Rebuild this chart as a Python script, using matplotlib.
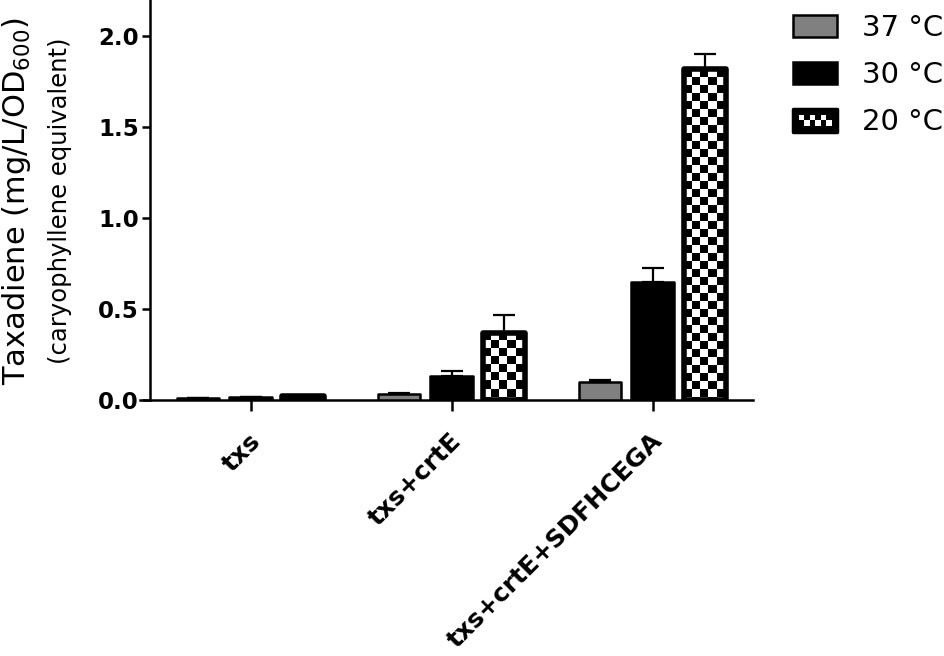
import matplotlib
matplotlib.use('Agg')
import matplotlib.pyplot as plt
import numpy as np
from matplotlib.patches import Rectangle
from matplotlib.legend_handler import HandlerBase
from matplotlib.transforms import ScaledTranslation

# data
strains = ['txs', 'txs+crtE', 'txs+crtE+SDFHCEGA']
temps = ['37 °C', '30 °C', '20 °C']
taxa_37 = [0.010, 0.035, 0.100]
err_37 = [0.002, 0.004, 0.008]
taxa_30 = [0.015, 0.130, 0.650]
err_30 = [0.003, 0.028, 0.078]
taxa_20 = [0.020, 0.370, 1.820]
err_20 = [0.004, 0.097, 0.085]

plt.rcParams['font.family'] = ['DejaVu Sans']
plt.rcParams['mathtext.fontset'] = 'dejavusans'

fig = plt.figure(figsize=(9.44, 6.56), dpi=100)
ax = fig.add_axes([140/944, 1-400/656, 613/944, 400/656])

x = np.arange(len(strains))
w = 0.21
off = 0.26

edge_lw = 1.8
b37 = ax.bar(x - off, taxa_37, w, color='#808080', edgecolor='black', lw=edge_lw, zorder=3)
b30 = ax.bar(x, taxa_30, w, color='black', edgecolor='black', lw=edge_lw, zorder=3)
b20 = ax.bar(x + off, taxa_20, w, color='none', edgecolor='black', lw=4.0, zorder=4)
for b in list(b37) + list(b30) + list(b20):
    b.set_joinstyle('round')

# checkerboard fill for the 20 C bars
cx, cy = 8/201, 8/182
for b in b20:
    x0, h = b.get_x(), b.get_height()
    nr = int(np.ceil(h/cy)) + 1
    nc = int(np.ceil(w/cx)) + 1
    chk = np.indices((nr, nc)).sum(axis=0) % 2
    im = ax.imshow(chk, cmap='gray', vmin=0, vmax=1, interpolation='nearest', aspect='auto',
                   extent=[x0, x0 + nc*cx, h - nr*cy, h], origin='upper', zorder=2)
    im.set_clip_path(b)

for vals, errs, dx in [(taxa_37, err_37, -off), (taxa_30, err_30, 0), (taxa_20, err_20, off)]:
    ax.errorbar(x + dx, vals, yerr=[np.zeros(len(errs)), errs], fmt='none', ecolor='black',
                elinewidth=1.6, capsize=8, capthick=1.6, zorder=5)

ax.set_xlim(-0.55, 2.5)
ax.set_ylim(0, 2.2)
ax.spines['top'].set_visible(False)
ax.spines['right'].set_visible(False)
ax.spines['left'].set_position(('data', -0.5))
ax.spines['left'].set_linewidth(1.8)
ax.spines['bottom'].set_linewidth(1.8)

ax.set_yticks([0, 0.5, 1.0, 1.5, 2.0])
ax.set_yticklabels(['0.0', '0.5', '1.0', '1.5', '2.0'], fontweight='bold', fontsize=16.5)
ax.tick_params(axis='y', length=6, width=1.8, pad=2)
ax.set_xticks(x)
ax.set_xticklabels(strains, fontweight='bold', fontsize=18, rotation=45, ha='right',
                   va='center', rotation_mode='anchor')
ax.tick_params(axis='x', length=8, width=1.8, pad=19)
for lab in ax.get_xticklabels():
    lab.set_transform(lab.get_transform() + ScaledTranslation(6/100, 0, fig.dpi_scale_trans))

fig.text(17/944, 1-201/656, r'Taxadiene (mg/L/OD$_{600}$)', rotation=90, ha='center', va='center', fontsize=22)
fig.text(60/944, 1-201/656, '(caryophyllene equivalent)', rotation=90, ha='center', va='center', fontsize=17.5)


class CheckerHandler(HandlerBase):
    def create_artists(self, legend, orig_handle, xdescent, ydescent, width, height, fontsize, trans):
        x0, y0 = -xdescent, -ydescent
        arts = [Rectangle((x0, y0), width, height, facecolor='black', edgecolor='black',
                          lw=2.5, joinstyle='round', transform=trans)]
        m = 4
        nc, nr = 6, 2
        cw = (width - 2*m) / nc
        ch = (height - 2*m) / nr
        for i in range(nr):
            for j in range(nc):
                if (i + j) % 2 == 0:
                    arts.append(Rectangle((x0 + m + j*cw, y0 + m + (nr-1-i)*ch), cw, ch,
                                          facecolor='white', lw=0, transform=trans))
        return arts


leg = fig.legend([b37[0], b30[0], b20[0]], temps, loc='upper left',
                 bbox_to_anchor=(793/944, 1-14/656), frameon=False, fontsize=21,
                 handlelength=1.52, handleheight=0.8, handletextpad=0.85, labelspacing=0.66,
                 borderpad=0, borderaxespad=0,
                 handler_map={b20[0]: CheckerHandler()})

fig.savefig('out.png', dpi=100)
